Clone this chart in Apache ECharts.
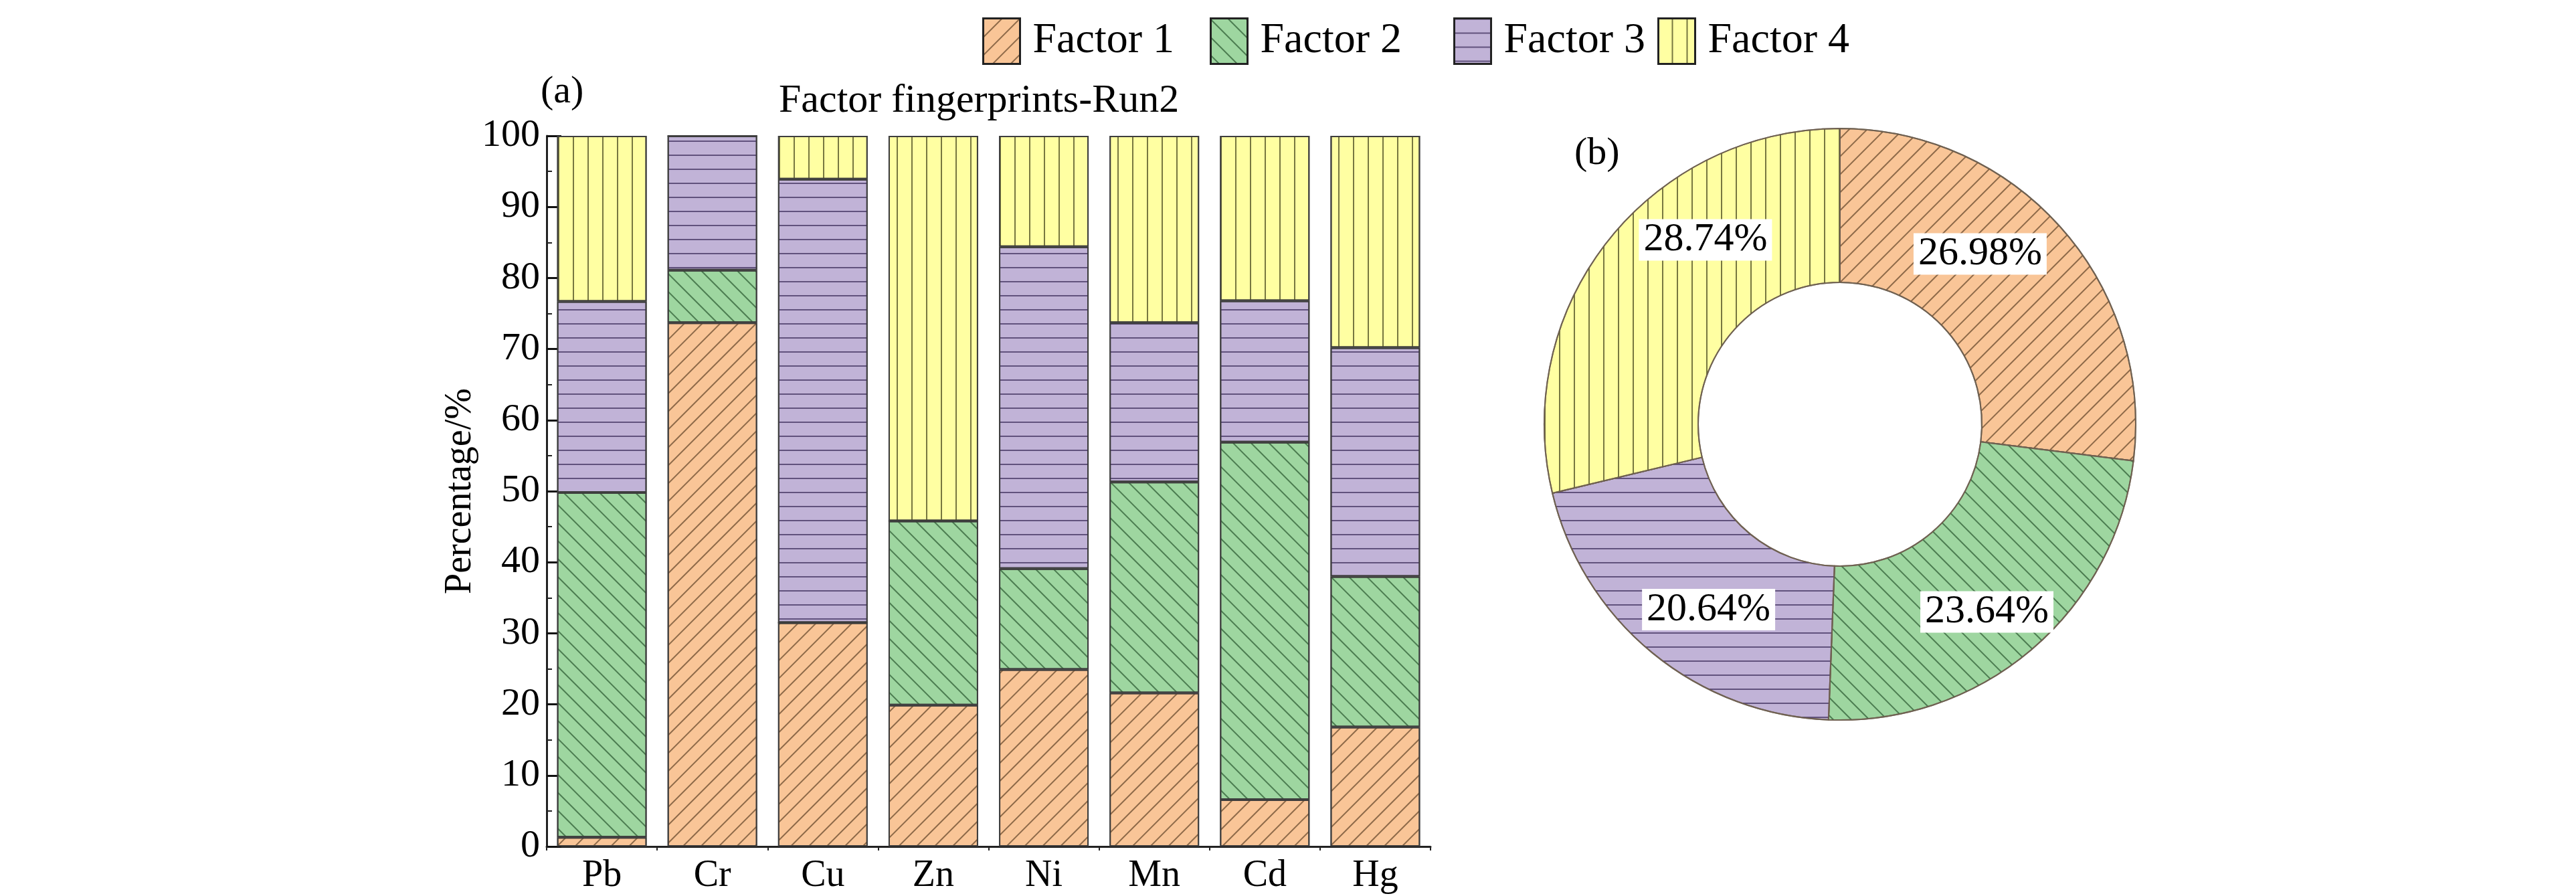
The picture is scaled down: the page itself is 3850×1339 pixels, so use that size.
<!DOCTYPE html>
<html><head><meta charset="utf-8">
<script src="https://cdn.jsdelivr.net/npm/echarts@6/dist/echarts.min.js"></script>
<style>html,body{margin:0;padding:0;background:#fff}#c{width:3850px;height:1339px}</style>
</head><body><div id="c"></div><script>
// ---- data ----
const categories = ['Pb', 'Cr', 'Cu', 'Zn', 'Ni', 'Mn', 'Cd', 'Hg'];
const factorNames = ['Factor 1', 'Factor 2', 'Factor 3', 'Factor 4'];
const factor1 = [1.3, 73.7, 31.5, 19.9, 24.9, 21.6, 6.6, 16.8];
const factor2 = [48.5, 7.4, 0, 25.9, 14.2, 29.7, 50.3, 21.2];
const factor3 = [26.9, 18.9, 62.4, 0, 45.3, 22.4, 19.9, 32.2];
const factor4 = [23.3, 0, 6.1, 54.2, 15.6, 26.3, 23.2, 29.8];
const pieValues = [26.98, 23.64, 20.64, 28.74];
const titleText = 'Factor fingerprints-Run2';
const yAxisName = 'Percentage/%';

// ---- styles / layout ----
const FONT = "'Liberation Serif', 'Times New Roman', serif";
const fills = ['#F9C597', '#9ED6A0', '#C1B3D7', '#FFFFA2'];
const hatch = ['rgba(105,75,45,0.75)', 'rgba(40,85,45,0.7)', 'rgba(65,50,95,0.75)', 'rgba(85,85,40,0.8)'];
const decals = [
  { symbol: 'rect', symbolSize: 1, dashArrayX: [1, 0], dashArrayY: [2, 17], rotation: -Math.PI / 4, color: hatch[0] },
  { symbol: 'rect', symbolSize: 1, dashArrayX: [1, 0], dashArrayY: [2, 17], rotation: Math.PI / 4, color: hatch[1] },
  { symbol: 'rect', symbolSize: 1, dashArrayX: [1, 0], dashArrayY: [2, 19], rotation: 0, color: hatch[2] },
  { symbol: 'rect', symbolSize: 1, dashArrayX: [1, 0], dashArrayY: [2, 20], rotation: Math.PI / 2, color: hatch[3] }
];
const legendLefts = [1468, 1808, 2172, 2477];
const pieLabelOffsets = [[-38, -36], [6, 29], [13, 22], [58, -71]];

const seriesData = [factor1, factor2, factor3, factor4];

const chart = echarts.init(document.getElementById('c'), null, { renderer: 'canvas' });

const barSeries = factorNames.map((n, i) => ({
  name: n,
  type: 'bar',
  stack: 'total',
  barWidth: 134,
  data: seriesData[i],
  itemStyle: { color: fills[i], borderColor: 'rgba(60,60,60,0.9)', borderWidth: 2, decal: decals[i] },
  emphasis: { disabled: true }
}));

const pieSeries = {
  type: 'pie',
  center: [2750, 634],
  radius: [212, 442],
  startAngle: 90,
  clockwise: true,
  avoidLabelOverlap: false,
  emphasis: { disabled: true },
  itemStyle: { borderColor: 'rgba(110,95,80,0.9)', borderWidth: 2 },
  label: {
    show: true,
    position: 'inside',
    formatter: p => p.value.toFixed(2) + '%',
    fontFamily: FONT,
    fontSize: 60,
    color: '#000',
    backgroundColor: '#fff',
    padding: [2, 7, 0, 7]
  },
  labelLine: { show: false },
  data: factorNames.map((n, i) => ({
    name: n,
    value: pieValues[i],
    itemStyle: { color: fills[i], decal: decals[i] },
    label: { offset: pieLabelOffsets[i] }
  }))
};

const option = {
  backgroundColor: '#fff',
  animation: false,
  textStyle: { fontFamily: FONT },
  title: [
    { text: titleText, left: 1164, top: 121, padding: 0, textStyle: { fontFamily: FONT, fontSize: 60, fontWeight: 'normal', color: '#000' } },
    { text: '(a)', left: 808, top: 109, padding: 0, textStyle: { fontFamily: FONT, fontSize: 58, fontWeight: 'normal', color: '#000' } },
    { text: '(b)', left: 2353, top: 201, padding: 0, textStyle: { fontFamily: FONT, fontSize: 58, fontWeight: 'normal', color: '#000' } }
  ],
  legend: factorNames.map((n, i) => ({
    data: [n],
    left: legendLefts[i],
    top: 26,
    padding: 0,
    icon: 'rect',
    itemWidth: 55,
    itemHeight: 68,
    selectedMode: false,
    itemStyle: { borderColor: '#222', borderWidth: 3 },
    textStyle: { fontFamily: FONT, fontSize: 64, color: '#000', padding: [0, 0, 0, 14] }
  })),
  grid: { left: 817, top: 203, width: 1321, height: 1062, containLabel: false },
  xAxis: {
    type: 'category',
    data: categories,
    axisLine: { lineStyle: { color: '#222', width: 3 } },
    axisTick: { show: true, length: 6, lineStyle: { color: '#222', width: 2 } },
    axisLabel: { fontFamily: FONT, fontSize: 56, color: '#000', margin: 16 }
  },
  yAxis: {
    type: 'value',
    min: 0, max: 100, interval: 10,
    name: yAxisName,
    nameLocation: 'middle',
    nameRotate: 90,
    nameGap: 100,
    nameTextStyle: { fontFamily: FONT, fontSize: 56, color: '#000' },
    axisLine: { show: true, lineStyle: { color: '#222', width: 3 } },
    axisTick: { show: true, inside: true, length: 22, lineStyle: { color: '#111', width: 3 } },
    minorTick: { show: true, splitNumber: 2, length: 8, lineStyle: { color: '#222', width: 2 } },
    splitLine: { show: false },
    axisLabel: { fontFamily: FONT, fontSize: 58, color: '#000', margin: 10 }
  },
  series: [...barSeries, pieSeries]
};
chart.setOption(option);
</script></body></html>
